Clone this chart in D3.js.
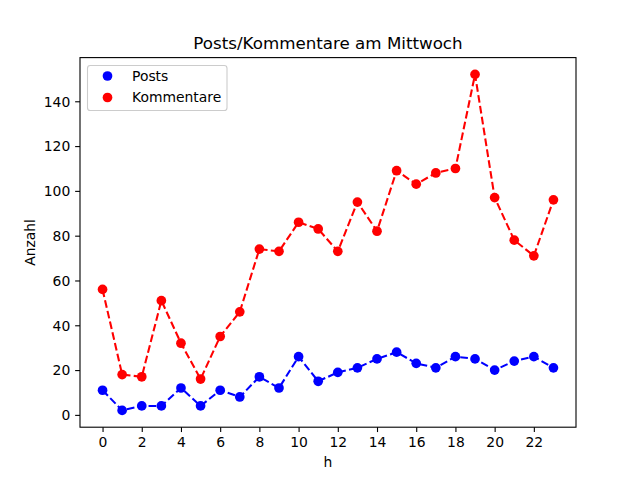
<!DOCTYPE html>
<html><head><meta charset="utf-8">
<script src="https://cdn.jsdelivr.net/npm/d3@7/dist/d3.min.js"></script>
<style>body{margin:0;background:#fff}svg{display:block}text{font-family:"DejaVu Sans",sans-serif}</style>
</head><body>
<script>
const hours = d3.range(0,24);
const posts = [11,2,4,4,12,4,11,8,17,12,26,15,19,21,25,28,23,21,26,25,20,24,26,21];
const kommentare = [56,18,17,51,32,16,35,46,74,73,86,83,73,95,82,109,103,108,110,152,97,78,71,96];
const xTicks = [0,2,4,6,8,10,12,14,16,18,20,22];
const yTicks = [0,20,40,60,80,100,120,140];
const seriesNames = ["Posts","Kommentare"];
const colors = ["#0000ff","#ff0000"];

const W=640,H=480, L=80,R=576,T=57.6,B=427.2;
const svg=d3.select("body").append("svg").attr("width",W).attr("height",H);
const x=d3.scaleLinear().domain([-1.15,24.15]).range([L,R]);
const y=d3.scaleLinear().domain([-5.5,159.5]).range([B,T]);

const ax=svg.append("g").attr("transform",`translate(0,${B})`)
 .call(d3.axisBottom(x).tickValues(xTicks).tickSize(4.86).tickPadding(4.9).tickFormat(d3.format("d")));
const ay=svg.append("g").attr("transform",`translate(${L},0)`)
 .call(d3.axisLeft(y).tickValues(yTicks).tickSize(4.86).tickPadding(4.9).tickFormat(d3.format("d")));
[ax,ay].forEach(g=>{g.select(".domain").remove();g.selectAll("line").attr("stroke","#000").attr("stroke-width",1.1);
 g.selectAll("text").attr("font-size","13.9px").attr("fill","#000").attr("font-family","DejaVu Sans");});
ay.selectAll("text").attr("dy","0.35em");

const plot=svg.append("g");
const line=d3.line().x((d,i)=>x(hours[i])).y(d=>y(d));
[posts,kommentare].forEach((s,k)=>{
 plot.append("path").datum(s).attr("d",line).attr("fill","none").attr("stroke",colors[k])
   .attr("stroke-width",2.08).attr("stroke-dasharray","7.7,3.3");
 plot.selectAll(null).data(s).enter().append("circle")
   .attr("cx",(d,i)=>x(hours[i])).attr("cy",d=>y(d)).attr("r",4.85).attr("fill",colors[k]);
});

svg.append("rect").attr("x",L).attr("y",T).attr("width",R-L).attr("height",B-T)
 .attr("fill","none").attr("stroke","#000").attr("stroke-width",1.1);

// legend
const lg=svg.append("g");
lg.append("rect").attr("x",87.5).attr("y",65.5).attr("width",139.5).attr("height",45).attr("rx",2.8)
 .attr("fill","#fff").attr("fill-opacity",0.8).attr("stroke","#cccccc").attr("stroke-width",1.1);
seriesNames.forEach((n,k)=>{
 const yy=76+k*21.5;
 lg.append("circle").attr("cx",107.5).attr("cy",yy).attr("r",4.85).attr("fill",colors[k]);
 lg.append("text").attr("x",132).attr("y",yy).attr("dy","0.35em").attr("font-size","13.9px").text(n);
});

svg.append("text").attr("x",(L+R)/2).attr("y",49).attr("text-anchor","middle").attr("font-size","16.7px").text("Posts/Kommentare am Mittwoch");
svg.append("text").attr("x",(L+R)/2).attr("y",467).attr("text-anchor","middle").attr("font-size","13.9px").text("h");
svg.append("text").attr("transform",`translate(35,${(T+B)/2}) rotate(-90)`).attr("text-anchor","middle").attr("font-size","13.9px").text("Anzahl");
</script>
</body></html>
